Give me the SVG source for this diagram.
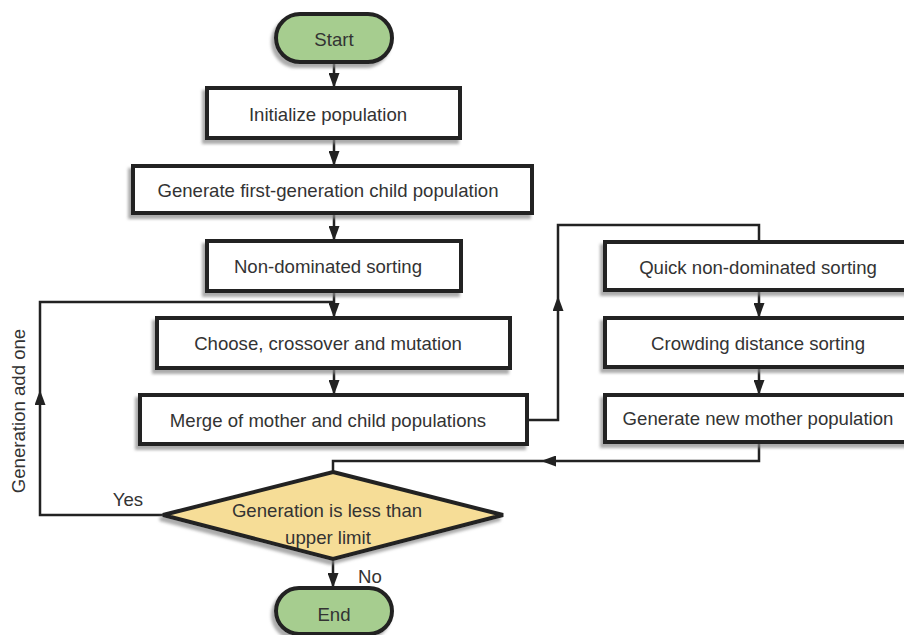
<svg xmlns="http://www.w3.org/2000/svg" width="904" height="635" viewBox="0 0 904 635">
<style>
.box{fill:#fff;stroke:#222;stroke-width:4;filter:url(#sh)}
.term{fill:#a6cd8f;stroke:#222;stroke-width:4;filter:url(#sh)}
.dec{fill:#f6dd97;stroke:#222;stroke-width:4;filter:url(#sh)}
.t{font-family:"Liberation Sans",Arial,sans-serif;font-size:18.6px;fill:#333;text-anchor:middle;dominant-baseline:central}
.c{fill:none;stroke:#222;stroke-width:2.5}
.a{marker-end:url(#ah)}
</style>
<defs>
<filter id="sh" x="-10%" y="-20%" width="120%" height="150%">
<feDropShadow dx="-3" dy="4" stdDeviation="1.5" flood-color="#888" flood-opacity="0.7"/>
</filter>
<marker id="ah" viewBox="0 0 15 11" refX="15" refY="5.5" markerWidth="15" markerHeight="11" markerUnits="userSpaceOnUse" orient="auto">
<path d="M0,0 L15,5.5 L0,11 Z" fill="#222"/>
</marker>
</defs>
<rect width="904" height="635" fill="#fff"/>
<g id="connectors">
<path class="c a" d="M334,63 V88"/>
<path class="c a" d="M334,138 V166"/>
<path class="c a" d="M334,213 V241"/>
<path class="c a" d="M334,291 V318"/>
<path class="c a" d="M334,368 V395"/>
<path class="c a" d="M528,420 H558 V296"/>
<path class="c" d="M558,296 V225 H759 V242"/>
<path class="c a" d="M759,290 V318"/>
<path class="c a" d="M759,367 V395"/>
<path class="c a" d="M759,442 V461 H541"/>
<path class="c" d="M541,461 H333 V472"/>
<path class="c a" d="M333,559 V588"/>
<path class="c a" d="M163,515 H40 V390"/>
<path class="c" d="M40,390 V302 H334"/>
</g>
<g id="start"><rect class="term" x="276" y="14" width="116" height="48" rx="24"/><text class="t" x="334" y="39">Start</text></g>
<g id="init"><rect class="box" x="207" y="88" width="253" height="50"/><text class="t" x="328" y="114">Initialize population</text></g>
<g id="genfirst"><rect class="box" x="133" y="166" width="399" height="47"/><text class="t" x="328" y="190">Generate first-generation child population</text></g>
<g id="nondom"><rect class="box" x="207" y="241" width="254" height="50"/><text class="t" x="328" y="266">Non-dominated sorting</text></g>
<g id="choose"><rect class="box" x="157" y="318" width="353" height="50"/><text class="t" x="328" y="343">Choose, crossover and mutation</text></g>
<g id="merge"><rect class="box" x="140" y="395" width="387" height="49"/><text class="t" x="328" y="420">Merge of mother and child populations</text></g>
<g id="quick"><rect class="box" x="605" y="242" width="310" height="48"/><text class="t" x="758" y="267">Quick non-dominated sorting</text></g>
<g id="crowd"><rect class="box" x="605" y="318" width="310" height="49"/><text class="t" x="758" y="343">Crowding distance sorting</text></g>
<g id="genmother"><rect class="box" x="605" y="395" width="310" height="47"/><text class="t" x="758" y="418">Generate new mother population</text></g>
<g id="decision"><polygon class="dec" points="333,472 503,515 333,559 163,515"/><text class="t" x="327" y="510">Generation is less than</text><text class="t" x="328" y="537">upper limit</text></g>
<g id="end"><rect class="term" x="276" y="588" width="116" height="46" rx="23"/><text class="t" x="334" y="614">End</text></g>
<g id="labels">
<text class="t" x="128" y="499">Yes</text>
<text class="t" x="370" y="576">No</text>
<text class="t" transform="translate(18,411) rotate(-90)">Generation add one</text>
</g>
</svg>
